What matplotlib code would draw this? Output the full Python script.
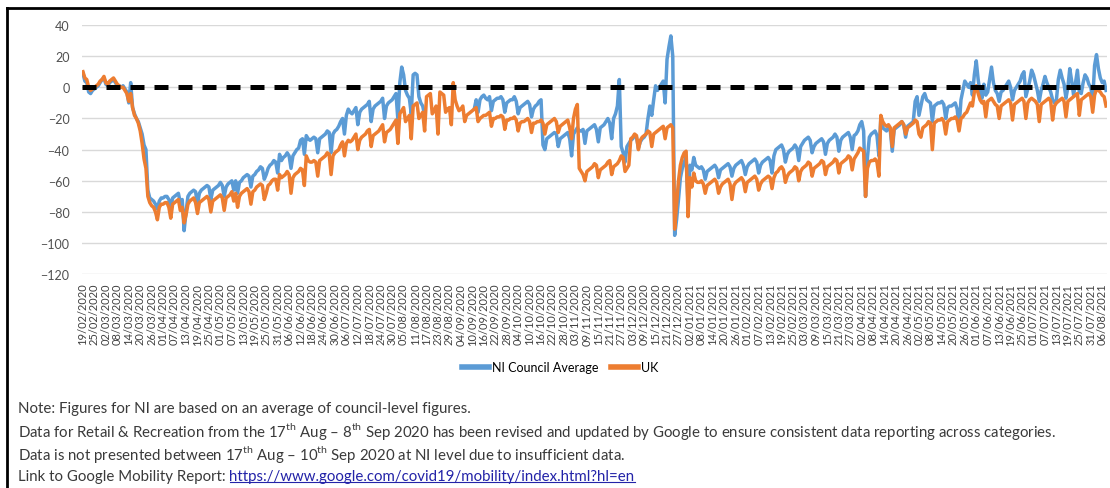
import numpy as np
import pandas as pd
import matplotlib
matplotlib.use("Agg")
import matplotlib.pyplot as plt
from matplotlib.lines import Line2D

nan = np.nan

# daily values, 19/02/2020 (Wed) .. 08/08/2021 (Sun); rows are Mon..Sun weeks
dates = pd.date_range("2020-02-19", "2021-08-08", freq="D")

ni_council = [
    9, 4, 3, -3, -4,
    -2, -1, 0, 1, 3, 5, 6,
    2, 1, 3, 4, 5, 3, 1,
    1, 0, 1, -1, -3, -10, 3,
    -13, -17, -20, -22, -26, -30, -37,
    -40, -66, -71, -72, -73, -75, -78,
    -73, -71, -71, -70, -70, -72, -77,
    -71, -70, -69, -68, -74, -72, -92,
    -80, -70, -68, -67, -66, -67, -75,
    -68, -66, -65, -64, -63, -64, -72,
    -66, -65, -64, -63, -61, -63, -70,
    -64, -62, -61, -60, -66, -60, -68,
    -61, -60, -58, -57, -56, -57, -64,
    -57, -56, -54, -53, -51, -52, -59,
    -56, -52, -50, -49, -47, -48, -55,
    -43, -47, -45, -44, -42, -44, -52,
    -44, -42, -40, -39, -34, -33, -43,
    -31, -33, -34, -33, -32, -33, -42,
    -33, -32, -31, -30, -28, -29, -42,
    -30, -28, -27, -25, -22, -20, -30,
    -18, -14, -16, -17, -15, -13, -24,
    -16, -14, -13, -12, -11, -9, -22,
    -14, -12, -11, -10, -9, -7, -20,
    -12, -10, -9, -8, -6, -4, -21,
    3, 13, 8, -2, -5, -7, -17,
    8, 9, 8, -6, -10, -12, -18,
    nan, nan, nan, nan, nan, nan, nan,
    nan, nan, nan, nan, nan, nan, nan,
    nan, nan, nan, nan, nan, nan, nan,
    nan, nan, nan, nan, -14, -8, -16,
    -8, -6, -5, -7, -8, -6, -15,
    -9, -8, -7, -7, -6, -8, -16,
    -10, -9, -8, -8, -6, -9, -17,
    -13, -12, -11, -10, -9, -11, -19,
    -14, -12, -11, -9, -8, -37, -40,
    -33, -32, -31, -30, -29, -30, -38,
    -33, -32, -31, -30, -29, -33, -44,
    -30, -28, -26, -28, -28, -27, -36,
    -28, -27, -26, -25, -24, -27, -35,
    -26, -25, -24, -22, -20, -23, -33,
    -20, -17, -12, 5, -38, -42, -48,
    -38, -36, -34, -33, -31, -32, -39,
    -35, -33, -32, -30, -20, -12, -18,
    -8, 1, -2, 0, 2, 4, -10,
    18, 26, 33, 20, -95, -85, -72,
    -58, -52, -48, -45, -75, -50, -53,
    -45, -50, -51, -52, -51, -53, -59,
    -54, -53, -52, -51, -50, -52, -58,
    -53, -52, -51, -50, -49, -51, -57,
    -52, -50, -49, -48, -47, -50, -56,
    -51, -49, -48, -47, -46, -48, -55,
    -50, -48, -47, -46, -45, -47, -55,
    -44, -40, -39, -38, -37, -40, -48,
    -43, -41, -40, -39, -37, -39, -47,
    -38, -36, -34, -33, -32, -34, -42,
    -38, -36, -35, -34, -33, -35, -43,
    -36, -34, -33, -32, -30, -32, -41,
    -34, -32, -31, -30, -29, -32, -40,
    -31, -30, -28, -24, -22, -28, -70,
    -45, -32, -30, -29, -28, -31, -44,
    -20, -26, -27, -28, -26, -28, -41,
    -27, -26, -25, -24, -22, -24, -32,
    -25, -24, -23, -22, -9, -6, -18,
    -12, -6, -4, -8, -9, -10, -22,
    -12, -11, -10, -10, -9, -11, -20,
    -13, -12, -12, -11, -10, -14, -26,
    -8, -2, 4, 2, 0, 3, -5,
    8, 17, 5, -4, -7, 2, -5,
    -3, 5, 13, 3, -2, -4, -9,
    -3, -2, 0, 2, 4, 0, -8,
    -2, 0, 2, 4, 8, 10, -6,
    -1, 4, 11, 8, 3, -2, -9,
    -2, 2, 7, 3, 0, -3, -8,
    -10, -8, 5, 11, 6, 2, -7,
    0, 12, 4, -5, 3, 11, -3,
    -4, 3, 8, 6, 2, 0, -8,
    14, 21, 12, 6, 3, 4, -2,
]

uk = [
    10, 6, 5, 0, -2,
    -1, 0, 1, 2, 4, 5, 7,
    3, 2, 4, 5, 6, 4, 2,
    1, 0, 0, -2, -4, -9, -4,
    -13, -18, -20, -23, -28, -36, -46,
    -52, -70, -74, -76, -77, -80, -85,
    -77, -75, -75, -74, -74, -77, -84,
    -75, -74, -73, -72, -79, -77, -87,
    -82, -75, -73, -72, -71, -74, -81,
    -74, -73, -72, -71, -70, -72, -80,
    -73, -72, -71, -70, -69, -71, -79,
    -71, -70, -69, -67, -73, -68, -77,
    -70, -68, -67, -66, -65, -67, -75,
    -67, -66, -64, -63, -62, -63, -72,
    -68, -63, -62, -60, -59, -59, -66,
    -56, -58, -57, -56, -54, -56, -68,
    -58, -56, -55, -54, -52, -53, -63,
    -44, -47, -48, -48, -47, -48, -57,
    -47, -46, -45, -44, -42, -43, -56,
    -44, -42, -41, -40, -37, -35, -44,
    -36, -34, -35, -34, -32, -30, -40,
    -34, -32, -31, -30, -28, -27, -38,
    -31, -30, -29, -28, -26, -24, -35,
    -29, -28, -27, -25, -23, -21, -36,
    -17, -15, -13, -22, -20, -18, -33,
    -12, -11, -10, -20, -18, -16, -28,
    -6, -5, -4, -17, -15, -12, -30,
    -3, -4, -5, -16, -14, -13, -24,
    3, -8, -12, -15, -14, -12, -22,
    -18, -17, -16, -15, -14, -13, -22,
    -20, -19, -18, -18, -17, -16, -25,
    -20, -20, -19, -19, -18, -19, -27,
    -21, -21, -20, -20, -19, -21, -28,
    -23, -22, -22, -21, -20, -22, -29,
    -23, -23, -22, -22, -21, -23, -30,
    -24, -23, -22, -21, -20, -22, -29,
    -25, -24, -23, -22, -21, -26, -33,
    -20, -14, -11, -52, -54, -56, -60,
    -54, -53, -52, -51, -49, -50, -58,
    -53, -52, -51, -50, -48, -47, -56,
    -51, -50, -49, -47, -44, -45, -54,
    -52, -50, -33, -32, -30, -31, -40,
    -34, -32, -31, -30, -28, -29, -38,
    -30, -29, -28, -27, -26, -25, -33,
    -26, -25, -24, -26, -91, -75, -60,
    -50, -45, -42, -41, -83, -58, -64,
    -55, -60, -61, -61, -60, -62, -68,
    -63, -62, -61, -60, -59, -61, -68,
    -64, -62, -61, -60, -59, -62, -72,
    -63, -61, -60, -59, -58, -60, -67,
    -61, -60, -59, -58, -57, -59, -66,
    -62, -60, -59, -58, -57, -58, -65,
    -58, -55, -54, -52, -51, -53, -61,
    -57, -55, -54, -53, -51, -52, -60,
    -54, -52, -51, -50, -48, -49, -57,
    -52, -51, -50, -49, -47, -48, -56,
    -51, -50, -49, -48, -46, -47, -55,
    -49, -48, -47, -46, -44, -45, -53,
    -46, -44, -42, -39, -40, -41, -70,
    -52, -48, -47, -47, -46, -48, -57,
    -18, -22, -24, -25, -24, -26, -38,
    -26, -25, -24, -23, -22, -24, -30,
    -26, -25, -24, -23, -21, -22, -30,
    -32, -26, -25, -24, -22, -23, -40,
    -23, -22, -21, -21, -20, -22, -30,
    -22, -21, -20, -20, -19, -21, -28,
    -20, -19, -17, -16, -13, -10, -12,
    -3, 1, -4, -8, -10, -9, -19,
    -9, -8, -7, -9, -11, -12, -20,
    -12, -11, -10, -9, -8, -10, -21,
    -11, -10, -9, -8, -7, -9, -20,
    -10, -8, -7, -8, -9, -11, -22,
    -11, -10, -9, -8, -7, -9, -21,
    -12, -10, -9, -8, -7, -9, -19,
    -9, -8, -7, -6, -5, -4, -18,
    -8, -7, -6, -5, -4, -6, -16,
    -5, -1, -2, -3, -5, -6, -12,
]

assert len(ni_council) == len(dates) and len(uk) == len(dates)

tick_step = 6
yticks = list(range(-120, 41, 20))

notes = [
    "Note: Figures for NI are based on an average of council-level figures.",
    r"Data for Retail & Recreation from the 17$^{\mathregular{th}}$ Aug – 8$^{\mathregular{th}}$ Sep 2020 has been revised and updated by Google to ensure consistent data reporting across categories.",
    r"Data is not presented between 17$^{\mathregular{th}}$ Aug – 10$^{\mathregular{th}}$ Sep 2020 at NI level due to insufficient data.",
]
link_label = "Link to Google Mobility Report: "
link_url = "https://www.google.com/covid19/mobility/index.html?hl=en"

W, H = 1110, 489
plt.rcParams["font.family"] = ["Lato", "DejaVu Sans"]
plt.rcParams["mathtext.fontset"] = "custom"
plt.rcParams["mathtext.rm"] = "Lato"

fig = plt.figure(figsize=(W / 100, H / 100), dpi=100)
ax = fig.add_axes([82 / W, 1 - 275.3 / H, (1107 - 82) / W, (275.3 - 26) / H])

x = np.arange(len(dates))
ax.plot(x, ni_council, color="#5B9BD5", lw=2.5, solid_joinstyle="round", label="NI Council Average")
ax.plot(x, uk, color="#ED7D31", lw=2.5, solid_joinstyle="round", label="UK")
ax.axhline(0, color="black", lw=3.6, dashes=(2.8, 2.0), zorder=4)

ax.set_xlim(-0.5, len(dates) - 0.5)
ax.set_ylim(-120, 40)
ax.set_yticks(yticks)
ax.yaxis.grid(True, color="#d9d9d9", lw=1.0)
ax.set_axisbelow(True)
for s in ax.spines.values():
    s.set_visible(False)

ticks = x[::tick_step]
ax.set_xticks(ticks)
ax.set_xticklabels([dates[i].strftime("%d/%m/%Y") for i in ticks], rotation=90,
                   fontsize=8, color="#404040")
ax.tick_params(axis="both", length=0)
ax.tick_params(axis="x", pad=6)
ax.tick_params(axis="y", pad=9, labelsize=9, labelcolor="#505050")

handles = [Line2D([], [], color="#5B9BD5", lw=4), Line2D([], [], color="#ED7D31", lw=4)]
fig.legend(handles, ["NI Council Average", "UK"], loc="center", bbox_to_anchor=(560 / W, 1 - 368 / H),
           ncol=2, frameon=False, fontsize=9, handlelength=2.2, handletextpad=0.2, columnspacing=1.0)

ys = [409, 432, 455]
for t, yy in zip(notes, ys):
    fig.text(18 / W, 1 - yy / H, t, fontsize=10.8, color="#3a3a3a", va="center", ha="left")

t1 = fig.text(18 / W, 1 - 477 / H, link_label, fontsize=10.8, color="#3a3a3a", va="center", ha="left")
r = fig.canvas.get_renderer()
bb = t1.get_window_extent(r)
t2 = fig.text(bb.x1 / W, 1 - 477 / H, link_url, fontsize=10.8, color="#2323A8", va="center", ha="left")
bb2 = t2.get_window_extent(r)
fig.add_artist(Line2D([bb2.x0 / W, bb2.x1 / W], [(bb2.y0 + 1) / H, (bb2.y0 + 1) / H], color="#2323A8", lw=0.8))

# frame around the chart
fig.add_artist(Line2D([7 / W, 7 / W], [0, 1 - 9 / H], color="black", lw=2.0))
fig.add_artist(Line2D([7 / W, 1], [1 - 9 / H, 1 - 9 / H], color="black", lw=2.0))

fig.savefig("out.png", dpi=100)
